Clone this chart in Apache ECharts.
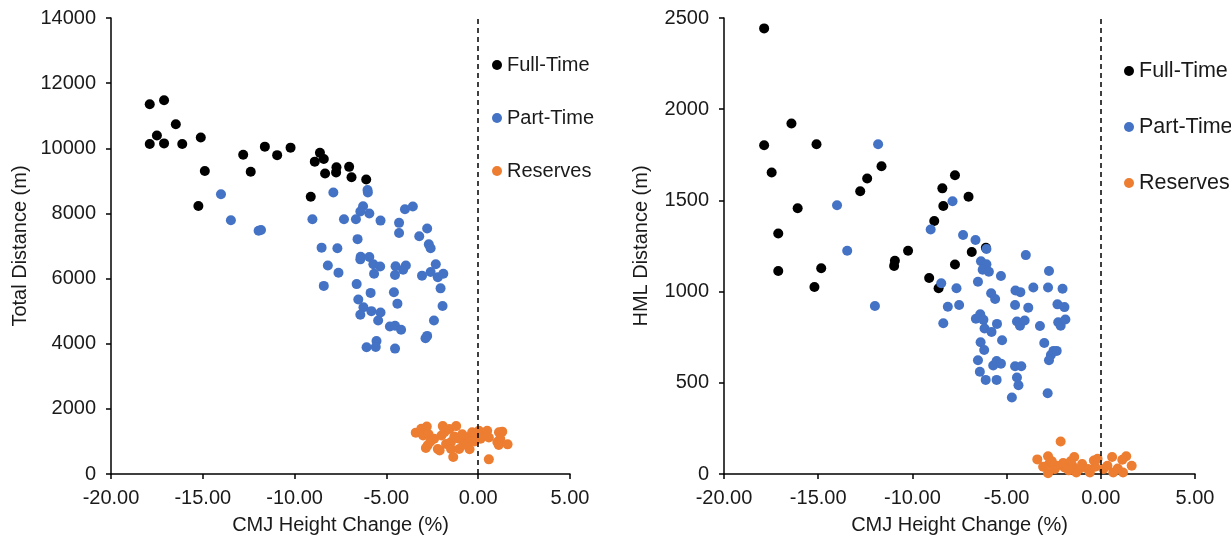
<!DOCTYPE html>
<html>
<head>
    <meta charset="utf-8">
    <title>CMJ height change vs distance</title>
    <style>
        body { margin: 0; background: #fff; }
        #main { width: 1231px; height: 543px; }
    </style>
</head>
<body>
    <div id="main"></div>
    <script src="https://cdn.jsdelivr.net/npm/echarts@6/dist/echarts.min.js"></script>
    <script>
        // [CMJ height change (%), distance (m)]
        var ftTotal = [
            [-17.89, 11350], [-17.11, 11475], [-17.89, 10130], [-17.5, 10390], [-17.11, 10150],
            [-16.47, 10740], [-16.12, 10130], [-15.11, 10330], [-14.89, 9300], [-15.24, 8230],
            [-12.8, 9800], [-12.39, 9280], [-11.62, 10050], [-10.95, 9790], [-10.22, 10020],
            [-8.62, 9860], [-8.9, 9590], [-8.41, 9670], [-8.34, 9225], [-7.72, 9420],
            [-7.74, 9260], [-7.03, 9430], [-6.9, 9110], [-6.1, 9040], [-9.12, 8510]
        ];
        var ptTotal = [
            [-14.01, 8590], [-13.47, 7790], [-11.96, 7470], [-11.83, 7490], [-9.03, 7820],
            [-7.89, 8640], [-6.03, 8720], [-6.01, 8640], [-6.27, 8220], [-6.42, 8060],
            [-6.66, 7820], [-5.93, 8000], [-7.31, 7820], [-5.32, 7780], [-3.99, 8130],
            [-3.56, 8210], [-4.31, 7710], [-4.31, 7400], [-3.21, 7300], [-2.78, 7540],
            [-2.69, 7050], [-2.59, 6930], [-6.57, 7210], [-8.53, 6950], [-7.67, 6930],
            [-6.4, 6670], [-6.42, 6590], [-5.93, 6660], [-5.71, 6440], [-5.34, 6370],
            [-5.67, 6150], [-8.19, 6400], [-7.61, 6180], [-8.41, 5775], [-4.5, 6380],
            [-4.53, 6110], [-3.94, 6400], [-4.09, 6270], [-3.06, 6090], [-2.31, 6440],
            [-2.59, 6200], [-2.2, 6040], [-1.9, 6150], [-2.05, 5700], [-1.94, 5160],
            [-2.41, 4710], [-6.62, 5830], [-6.53, 5360], [-5.86, 5560], [-6.25, 5120],
            [-6.42, 4890], [-5.82, 5000], [-5.32, 4960], [-5.45, 4710], [-4.59, 5580],
            [-4.4, 5230], [-4.81, 4530], [-4.53, 4550], [-4.2, 4430], [-2.78, 4240],
            [-2.87, 4170], [-6.08, 3890], [-5.54, 4080], [-5.58, 3900], [-4.53, 3850]
        ];
        var resTotal = [
            [-3.4, 1270], [-3.1, 1390], [-2.8, 1460], [-3.0, 1180], [-2.7, 1220],
            [-2.85, 800], [-2.75, 880], [-2.4, 1080], [-2.2, 770], [-2.0, 1180],
            [-2.1, 720], [-1.93, 1470], [-1.84, 1280], [-1.75, 920], [-1.57, 1380],
            [-1.48, 980], [-1.48, 770], [-1.36, 520], [-1.2, 1470], [-1.04, 1080],
            [-1.04, 770], [-0.87, 1220], [-0.6, 1120], [-0.5, 980], [-0.47, 760],
            [-0.33, 1280], [-0.15, 1180], [0.04, 1330], [0.13, 1080], [0.2, 1200],
            [0.49, 1330], [0.58, 1120], [0.58, 450], [1.13, 1280], [1.31, 1300],
            [1.2, 1080], [1.04, 980], [1.12, 890], [1.6, 910], [-2.6, 1000],
            [-1.3, 1150], [-0.8, 900], [-0.2, 1000]
        ];
        var ftHml = [
            [-17.87, 2443], [-17.87, 1802], [-16.42, 1922], [-15.09, 1808], [-17.47, 1653],
            [-16.09, 1457], [-17.12, 1319], [-17.12, 1113], [-14.84, 1128], [-15.2, 1025],
            [-11.64, 1687], [-12.4, 1620], [-12.77, 1550], [-10.23, 1224], [-10.93, 1169],
            [-10.97, 1141], [-9.11, 1075], [-8.61, 1018], [-8.84, 1387], [-8.36, 1469],
            [-8.41, 1566], [-7.74, 1638], [-7.02, 1520], [-6.85, 1217], [-7.74, 1149],
            [-6.1, 1240]
        ];
        var ptHml = [
            [-11.82, 1808], [-14.0, 1473], [-13.46, 1224], [-11.99, 921], [-7.87, 1495],
            [-9.03, 1340], [-8.47, 1046], [-8.36, 826], [-8.12, 917], [-7.52, 927],
            [-7.66, 1018], [-7.31, 1310], [-6.65, 1283], [-6.07, 1234], [-6.36, 1166],
            [-6.07, 1150], [-6.27, 1120], [-5.94, 1109], [-6.52, 1054], [-5.3, 1086],
            [-5.82, 991], [-5.61, 959], [-6.63, 851], [-6.4, 876], [-6.23, 845],
            [-6.17, 798], [-5.8, 779], [-5.51, 823], [-5.24, 733], [-6.38, 722],
            [-6.19, 680], [-6.52, 624], [-6.42, 561], [-6.11, 516], [-5.71, 595],
            [-5.53, 620], [-5.3, 605], [-5.53, 516], [-4.72, 419], [-4.55, 591],
            [-4.22, 591], [-4.45, 529], [-4.37, 487], [-4.55, 927], [-4.45, 836],
            [-4.29, 813], [-4.04, 842], [-4.53, 1006], [-4.27, 997], [-3.85, 912],
            [-3.58, 1022], [-3.98, 1200], [-3.23, 811], [-3.0, 718], [-2.75, 1113],
            [-2.8, 1022], [-2.3, 930], [-2.03, 1016], [-1.93, 915], [-2.26, 832],
            [-2.13, 813], [-1.88, 847], [-2.65, 652], [-2.51, 675], [-2.34, 675],
            [-2.75, 624], [-2.82, 443]
        ];
        var resHml = [
            [-2.13, 178], [-3.37, 80], [-2.8, 97], [-2.75, 55], [-3.06, 40],
            [-2.8, 4], [-2.44, 27], [-1.93, 36], [-1.41, 93], [-1.51, 45],
            [-1.3, 8], [-0.99, 55], [-0.68, 27], [-0.37, 74], [-0.17, 83],
            [-0.58, 8], [0.14, 27], [0.6, 93], [0.66, 8], [0.35, 45],
            [1.18, 8], [1.35, 97], [1.14, 78], [1.64, 45], [-2.34, 45],
            [-1.7, 20], [-2.6, 70], [-1.1, 30], [-0.3, 40], [0.9, 30],
            [-2.0, 60], [-1.6, 70]
        ];
        var groupNames = ['Full-Time', 'Part-Time', 'Reserves'];
        var groupColors = ['#000000', '#4472C4', '#ED7D31'];

        var font = 'Liberation Sans, Arial, sans-serif';
        var black = '#000';
        var textColor = '#1a1a1a';

        function xAxisCfg(idx) {
            return {
                gridIndex: idx, type: 'value', min: -20, max: 5, interval: 5,
                name: 'CMJ Height Change (%)', nameLocation: 'middle', nameGap: 41,
                nameTextStyle: { fontFamily: font, fontSize: 20, color: textColor },
                axisLine: { onZero: false, lineStyle: { color: black, width: 1.5 } },
                axisTick: { inside: false, length: 5, lineStyle: { color: black, width: 1.5 } },
                axisLabel: {
                    fontFamily: font, fontSize: 20, color: textColor, margin: 14,
                    formatter: function (v) { return v.toFixed(2); }
                },
                splitLine: { show: false }
            };
        }
        function yAxisCfg(idx, name, max, interval, gap) {
            return {
                gridIndex: idx, type: 'value', min: 0, max: max, interval: interval,
                name: name, nameLocation: 'middle', nameGap: gap,
                nameTextStyle: { fontFamily: font, fontSize: 20, color: textColor },
                axisLine: { show: true, onZero: false, lineStyle: { color: black, width: 1.5 } },
                axisTick: { show: true, length: 5, lineStyle: { color: black, width: 1.5 } },
                axisLabel: {
                    fontFamily: font, fontSize: 20, color: textColor, margin: 15,
                    formatter: function (v) { return String(v); }
                },
                splitLine: { show: false }
            };
        }
        function scatter(name, color, data, idx, withLine) {
            var s = {
                name: name, type: 'scatter', xAxisIndex: idx, yAxisIndex: idx,
                data: data, symbolSize: 10,
                itemStyle: { color: color, opacity: 1 },
                emphasis: { disabled: true }
            };
            if (withLine) {
                s.markLine = {
                    silent: true, symbol: 'none', label: { show: false },
                    lineStyle: { color: black, type: [5, 4], width: 1.5 },
                    data: [{ xAxis: 0 }]
                };
            }
            return s;
        }
        function legendCfg(left, top, size, gap) {
            return {
                orient: 'vertical', left: left, top: top,
                data: groupNames, icon: 'circle', itemWidth: 10, itemHeight: 10,
                itemGap: gap,
                textStyle: { fontFamily: font, fontSize: size, color: textColor, lineHeight: 20 }
            };
        }

        var myChart = echarts.init(document.getElementById('main'));
        var option = {
            animation: false,
            backgroundColor: '#fff',
            legend: [legendCfg(487, 50, 20, 33), legendCfg(1119, 55, 21.5, 34)],
            grid: [
                { left: 111, top: 18, width: 459, height: 456 },
                { left: 724, top: 18, width: 471, height: 456 }
            ],
            xAxis: [xAxisCfg(0), xAxisCfg(1)],
            yAxis: [
                yAxisCfg(0, 'Total Distance (m)', 14000, 2000, 81),
                yAxisCfg(1, 'HML Distance (m)', 2500, 500, 73)
            ],
            series: [
                scatter(groupNames[0], groupColors[0], ftTotal, 0, true),
                scatter(groupNames[1], groupColors[1], ptTotal, 0, false),
                scatter(groupNames[2], groupColors[2], resTotal, 0, false),
                scatter(groupNames[0], groupColors[0], ftHml, 1, true),
                scatter(groupNames[1], groupColors[1], ptHml, 1, false),
                scatter(groupNames[2], groupColors[2], resHml, 1, false)
            ]
        };
        myChart.setOption(option);
    </script>
</body>
</html>
